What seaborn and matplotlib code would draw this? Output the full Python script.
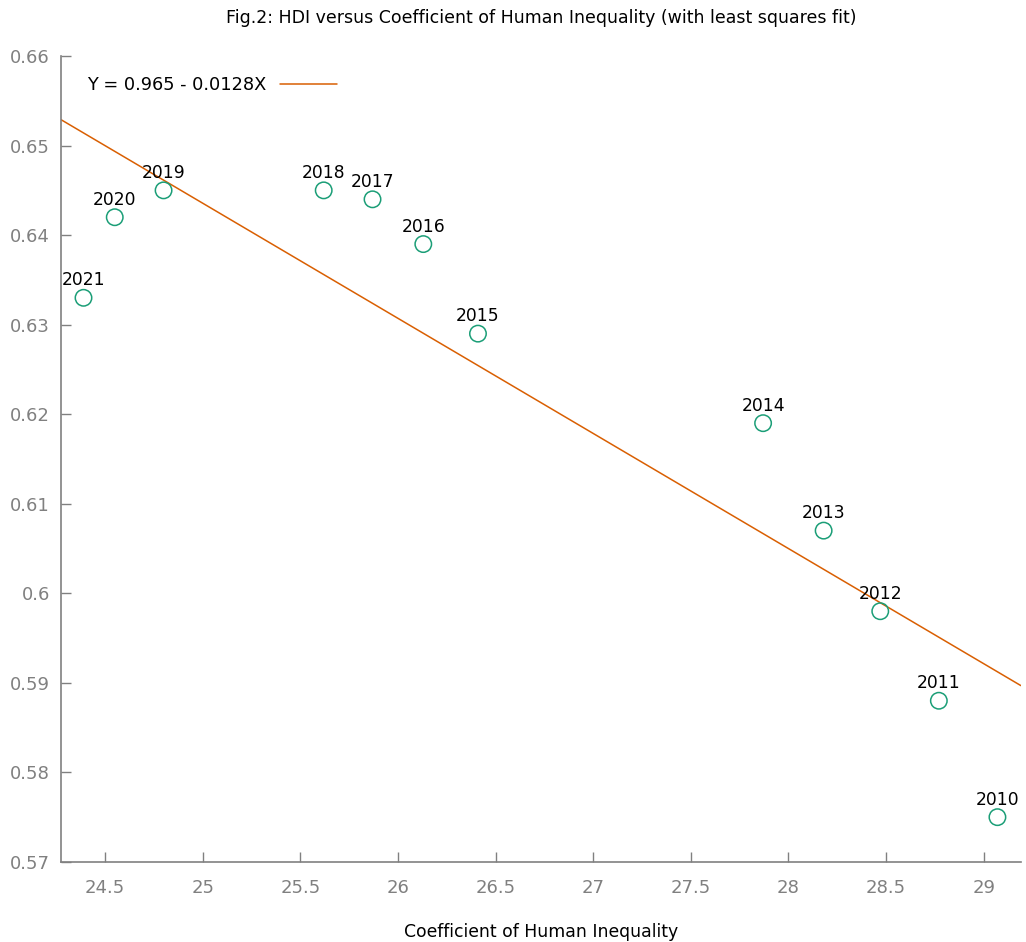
import numpy as np
import pandas as pd
import seaborn as sns
import matplotlib.pyplot as plt

years = [2010, 2011, 2012, 2013, 2014, 2015, 2016, 2017, 2018, 2019, 2020, 2021]
inequality = [29.07, 28.77, 28.47, 28.18, 27.87, 26.41, 26.13, 25.87, 25.62, 24.80, 24.55, 24.39]
hdi = [0.575, 0.588, 0.598, 0.607, 0.619, 0.629, 0.639, 0.644, 0.645, 0.645, 0.642, 0.633]
fit_label = "Y = 0.965 - 0.0128X"


def main():
    sns.set_theme(style="white")
    plt.rcParams['font.family'] = ['DejaVu Sans']
    pal = sns.color_palette("Dark2")

    df = pd.DataFrame({"year": years, "x": inequality, "y": hdi})

    fig = plt.figure(figsize=(10.26, 9.42), dpi=100)
    ax = fig.add_axes([0.0595, 0.085, 0.9355, 0.8555])

    # least squares fit of the points
    b, a = np.polyfit(df["x"], df["y"], 1)
    xlim = (24.275, 29.19)
    xs = np.array(xlim)
    fit = pd.DataFrame({"x": xs, "y": a + b * xs})
    sns.lineplot(data=fit, x="x", y="y", color=pal[1], lw=1.1, ax=ax,
                 label=fit_label)
    sns.scatterplot(data=df, x="x", y="y", ax=ax, s=140, marker="o",
                    facecolor="none", edgecolor=pal[0], linewidth=1.1, zorder=3)

    for _, r in df.iterrows():
        ax.annotate(str(int(r["year"])), (r["x"], r["y"]), xytext=(0, 6),
                    textcoords="offset points", ha="center", va="bottom",
                    fontsize=12.3, color="black")

    ax.set_xlim(*xlim)
    ax.set_ylim(0.57, 0.66)
    ax.set_xticks(np.arange(24.5, 29.01, 0.5))
    ax.set_xticklabels(["24.5", "25", "25.5", "26", "26.5", "27", "27.5", "28", "28.5", "29"])
    ax.set_yticks(np.arange(0.57, 0.6601, 0.01))
    ax.set_yticklabels(["0.57", "0.58", "0.59", "0.6", "0.61", "0.62", "0.63", "0.64", "0.65", "0.66"])
    ax.tick_params(bottom=True, left=True, direction="in", length=7, width=1,
                   color="#808080", labelcolor="#808080", labelsize=13, pad=12)
    ax.tick_params(axis="y", pad=8)
    for s in ["top", "right"]:
        ax.spines[s].set_visible(False)
    for s in ["left", "bottom"]:
        ax.spines[s].set_color("#808080")
        ax.spines[s].set_linewidth(1.2)

    ax.set_xlabel("Coefficient of Human Inequality", fontsize=12.4, labelpad=19, color="black")
    ax.set_ylabel("")
    ax.set_title("Fig.2: HDI versus Coefficient of Human Inequality (with least squares fit)",
                 fontsize=12.5, pad=24, color="black")
    ax.legend(loc="upper left", frameon=False, markerfirst=False, fontsize=12.8,
              handlelength=3.2, bbox_to_anchor=(0.01, 0.995), labelcolor="black")

    plt.savefig("out.png", dpi=100)


main()
